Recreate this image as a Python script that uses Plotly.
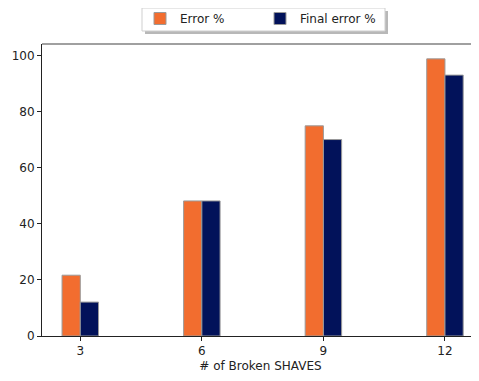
import plotly.graph_objects as go

categories = [3, 6, 9, 12]
error_pct = [21.7, 48.2, 75.0, 98.9]
final_error_pct = [12.1, 48.2, 70.1, 93.1]
series_names = ["Error %", "Final error %"]
x_ticks = [3, 6, 9, 12]
y_ticks = [0, 20, 40, 60, 80, 100]

# page body has an 8px margin, so the figure is 8px smaller than the window
W = 471
H = 373
ML, MT, MB, MR = 34, 36, 45, 0
PW = W - ML - MR   # plot width in px
PH = H - MT - MB   # plot height in px
bar_w = 0.45

font = dict(family="DejaVu Sans", size=12, color="#222")

fig = go.Figure()
fig.add_trace(go.Bar(
    x=categories, y=error_pct, name=series_names[0],
    width=bar_w, offset=-bar_w,
    marker=dict(color="#F26D2F", line=dict(color="#9a9a9a", width=1)),
))
fig.add_trace(go.Bar(
    x=categories, y=final_error_pct, name=series_names[1],
    width=bar_w, offset=0,
    marker=dict(color="#02125A", line=dict(color="#9a9a9a", width=1)),
))

def px_to_paper_x(px):
    return (px - ML) / PW
def px_to_paper_y(py):
    return (MT + PH - py) / PH

# legend entries placement (figure px)
leg_left, leg_top = 132, -4
# legend frame and its drop shadow (figure px)
bx0, bx1, by0, by1 = 134, 377, 0, 23
shadow = 3

fig.update_layout(
    width=W, height=H,
    margin=dict(l=ML, r=MR, t=MT, b=MB, pad=0, autoexpand=False),
    paper_bgcolor="white", plot_bgcolor="white",
    font=font,
    barmode="overlay",
    showlegend=True,
    legend=dict(
        orientation="h", x=px_to_paper_x(leg_left), xanchor="left",
        y=px_to_paper_y(leg_top), yanchor="top",
        yref="paper",
        bgcolor="rgba(0,0,0,0)", borderwidth=0,
        font=dict(family="DejaVu Sans", size=12, color="#222"),
        traceorder="normal",
        entrywidth=75, entrywidthmode="pixels",
    ),
    xaxis=dict(
        range=[2.055, 12.84], tickvals=x_ticks, ticktext=[str(v) for v in x_ticks],
        showgrid=False, zeroline=False, showline=True, linecolor="#222", linewidth=1,
        ticks="outside", ticklen=4, tickcolor="#222",
        title=dict(text="# of Broken SHAVES", standoff=4, font=dict(size=12)),
    ),
    yaxis=dict(
        range=[0, 104.2], tickvals=y_ticks,
        showgrid=False, zeroline=False, showline=True, linecolor="#222", linewidth=1,
        ticks="outside", ticklen=4, tickcolor="#222",
    ),
    shapes=[
        dict(type="line", xref="paper", yref="paper", x0=0, x1=1, y0=1, y1=1,
             line=dict(color="#808080", width=1.5)),
        dict(type="rect", xref="paper", yref="paper",
             x0=px_to_paper_x(bx0 + shadow), x1=px_to_paper_x(bx1 + shadow),
             y0=px_to_paper_y(by1 + shadow), y1=px_to_paper_y(by0 + shadow),
             fillcolor="#b8b8b8", line=dict(width=0), layer="above"),
        dict(type="rect", xref="paper", yref="paper",
             x0=px_to_paper_x(bx0), x1=px_to_paper_x(bx1),
             y0=px_to_paper_y(by1), y1=px_to_paper_y(by0),
             fillcolor="white", line=dict(color="#cfcfcf", width=1), layer="above"),
    ],
)

fig.write_html("out.html")
